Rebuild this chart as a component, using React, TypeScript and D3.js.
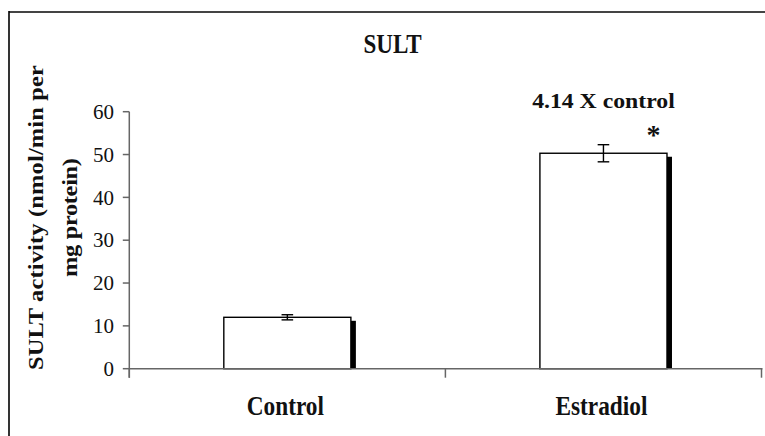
import React from "react";
import * as d3 from "d3";

const categories = ["Control", "Estradiol"];
const values = [12, 50.3];
const errors = [0.6, 2.0];
const yTicks = [0, 10, 20, 30, 40, 50, 60];
const titleText = "SULT";
const yTitleLines = ["SULT activity (nmol/min per", "mg protein)"];
const annotationText = "4.14 X control";
const significance = "*";

const W = 765;
const H = 436;
const FONT = "Liberation Serif, Tinos, Times New Roman, Times, DejaVu Serif, serif";

type STextProps = {
  x: number;
  y: number;
  rotate?: number;
  sx?: number;
  sy?: number;
  size: number;
  weight?: string | number;
  anchor?: "start" | "middle" | "end";
  dy?: string;
  textLength?: number;
  fill?: string;
  children: React.ReactNode;
};

function SText({ x, y, rotate = 0, sx = 1, sy = 1, size, weight = "normal", anchor = "middle", dy, textLength, fill = "#111", children }: STextProps) {
  return (
    <g transform={`translate(${x},${y}) rotate(${rotate}) scale(${sx},${sy})`}>
      <text
        textAnchor={anchor}
        style={{ fontFamily: FONT, fontSize: size, fontWeight: weight as any }}
        dy={dy}
        fill={fill}
        {...(textLength ? { textLength, lengthAdjust: "spacing" } : {})}
      >
        {children}
      </text>
    </g>
  );
}

export default function App() {
  const x0 = 129.3;
  const x1 = 761.5;
  const yTop = 111.7;
  const yBot = 368.7;

  const x = d3.scaleBand<string>().domain(categories).range([x0, x1]).paddingInner(0.598).paddingOuter(0.299);
  const y = d3.scaleLinear().domain([0, 60]).range([yBot, yTop]);
  const bw = x.bandwidth();
  const step = x.step();
  const boundaries = [x0, x0 + step, x0 + 2 * step];

  const shadowDx = 5;
  const shadowDy = 3.5;
  const capHalf = 5.8;

  const estX = (x("Estradiol") as number) + bw / 2;
  const estTop = y(values[1] + errors[1]);

  return (
    <div style={{ position: "absolute", left: 0, top: 0 }}>
      <svg width={W} height={H} viewBox={`0 0 ${W} ${H}`} style={{ display: "block", background: "#fff" }}>
        <rect x={0} y={0} width={W} height={H} fill="#fff" />
        {/* frame */}
        <line x1={9} y1={12} x2={W} y2={12} stroke="#444" strokeWidth={2} />
        <line x1={9} y1={11} x2={9} y2={H} stroke="#000" strokeWidth={1.6} />

        {/* title */}
        <SText x={392.5} y={53} size={26.5} weight="bold" sx={0.87}>{titleText}</SText>

        {/* y axis title */}
        <SText x={43.3} y={217.5} rotate={-90} sy={0.87} size={24.5} weight="bold" textLength={305}>
          {yTitleLines[0]}
        </SText>
        <SText x={76.7} y={217.5} rotate={-90} sy={0.87} size={24.5} weight="bold" textLength={119}>
          {yTitleLines[1]}
        </SText>

        {/* bars */}
        {categories.map((c, i) => {
          const bx = x(c) as number;
          const top = y(values[i]);
          return (
            <g key={c}>
              <rect x={bx + shadowDx} y={top + shadowDy} width={bw} height={yBot - top - shadowDy} fill="#000" />
              <rect x={bx} y={top} width={bw} height={yBot - top} fill="#fff" stroke="#000" strokeWidth={1.4} />
            </g>
          );
        })}

        {/* error bars */}
        {categories.map((c, i) => {
          const cx = (x(c) as number) + bw / 2;
          const hi = y(values[i] + errors[i]);
          const lo = y(values[i] - errors[i]);
          return (
            <g key={"e" + c} stroke="#000" strokeWidth={1.4}>
              <line x1={cx} x2={cx} y1={hi} y2={lo} />
              <line x1={cx - capHalf} x2={cx + capHalf} y1={hi} y2={hi} />
              <line x1={cx - capHalf} x2={cx + capHalf} y1={lo} y2={lo} />
            </g>
          );
        })}

        {/* axes */}
        <line x1={x0} x2={x0} y1={yTop} y2={yBot + 9} stroke="#666" strokeWidth={1.5} />
        {yTicks.map((t) => (
          <g key={t}>
            <line x1={x0 - 6.5} x2={x0} y1={y(t)} y2={y(t)} stroke="#666" strokeWidth={1.5} />
            <SText x={x0 - 15.3} y={y(t)} size={21} anchor="end" dy="0.34em">{t}</SText>
          </g>
        ))}
        <line x1={x0} x2={x1 + 1} y1={yBot} y2={yBot} stroke="#666" strokeWidth={1.5} />
        {boundaries.map((b, i) => (
          <line key={i} x1={b} x2={b} y1={yBot} y2={yBot + 9} stroke="#666" strokeWidth={1.5} />
        ))}
        {categories.map((c) => (
          <SText key={"l" + c} x={(x(c) as number) + bw / 2 - 2} y={415} size={26.5} weight="bold" sx={0.88}>
            {c}
          </SText>
        ))}

        {/* annotations */}
        <SText x={estX} y={107.5} size={22} weight="bold" sx={1.08}>{annotationText}</SText>
        <SText x={653.5} y={estTop - 1} size={28} weight="bold">{significance}</SText>
      </svg>
    </div>
  );
}
